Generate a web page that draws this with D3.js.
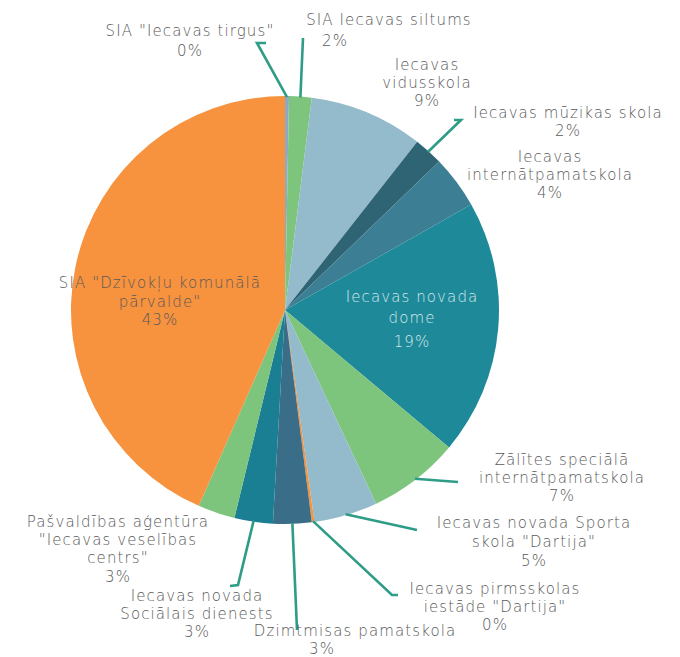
<!DOCTYPE html>
<html><head><meta charset="utf-8">
<script src="https://cdn.jsdelivr.net/npm/d3@7"></script>
<style>body{margin:0;background:#fff}svg{display:block}</style>
</head><body>
<script>
const categories = [
  'SIA "Iecavas tirgus"', 'SIA Iecavas siltums', 'Iecavas vidusskola', 'Iecavas mūzikas skola',
  'Iecavas internātpamatskola', 'Iecavas novada dome', 'Zālītes speciālā internātpamatskola',
  'Iecavas novada Sporta skola "Dartija"', 'Iecavas pirmsskolas iestāde "Dartija"',
  'Dzimtmisas pamatskola', 'Iecavas novada Sociālais dienests',
  'Pašvaldības aģentūra "Iecavas veselības centrs"', 'SIA "Dzīvokļu komunālā pārvalde"'
];
const values = [0.3, 1.7, 8.6, 2.2, 4.0, 19.3, 6.9, 4.8, 0.2, 2.9, 2.9, 2.8, 43.4];
const colors = ['#8fa9c4', '#7dc47c', '#93bbcb', '#2f6474', '#3c7e94', '#1e8a99', '#7dc47c',
  '#93bbcb', '#f7923f', '#3a6e88', '#1a7f92', '#7dc47c', '#f7923f'];
const labelLines = [
  ['SIA "Iecavas tirgus"'], ['SIA Iecavas siltums'], ['Iecavas', 'vidusskola'], ['Iecavas mūzikas skola'],
  ['Iecavas', 'internātpamatskola'], ['Iecavas novada', 'dome'], ['Zālītes speciālā', 'internātpamatskola'],
  ['Iecavas novada Sporta', 'skola "Dartija"'], ['Iecavas pirmsskolas', 'iestāde "Dartija"'],
  ['Dzimtmisas pamatskola'], ['Iecavas novada', 'Sociālais dienests'],
  ['Pašvaldības aģentūra', '"Iecavas veselības', 'centrs"'], ['SIA "Dzīvokļu komunālā', 'pārvalde"']
];

const W = 680, H = 657, cx = 285, cy = 310, R = 214;
const svg = d3.select('body').append('svg').attr('width', W).attr('height', H);
const g = svg.append('g').attr('transform', `translate(${cx},${cy})`);
const pie = d3.pie().sort(null).value(d => d);
const arcs = pie(values);
const arc = d3.arc().innerRadius(0).outerRadius(R);
g.selectAll('path.slice').data(arcs).join('path').attr('class', 'slice')
  .attr('d', arc).attr('fill', (d, i) => colors[i]);

const lab = [
  {x:190, y:36, pct:[190,56]}, {x:389, y:25, pct:[335,46]}, {x:427, y:70, pct:[427,106]},
  {x:568, y:118, pct:[568,136]}, {x:550, y:162, pct:[550,198]}, {x:412, y:302, pct:[412,347], inside:true},
  {x:562, y:465, pct:[562,501]}, {x:534, y:528, pct:[534,566]}, {x:495, y:594, pct:[495,630]},
  {x:355, y:636, pct:[322,654]}, {x:197, y:601, pct:[197,637]}, {x:118, y:527, pct:[118,582]},
  {x:160, y:288, pct:[160,325]}
];
const lineGap = [0,0,18,0,18,21,18,19,18,0,18,18,18.5];

const leaders = [
  {i:0, pts:[[257,43],[266,43]]}, {i:1, pts:[[303,38]]}, {i:3, pts:[[461,120],[454,120]]},
  {i:6, pts:[[458,482]]}, {i:7, pts:[[417,530]]}, {i:8, pts:[[392,595],[398,595]]},
  {i:9, pts:[[297,630]]}, {i:10, pts:[[238,585],[230,586]]}
];
leaders.forEach(l => {
  const a = arcs[l.i];
  const mid = (a.startAngle + a.endAngle) / 2;
  const p0 = [cx + Math.sin(mid) * (R - 1), cy - Math.cos(mid) * (R - 1)];
  const pts = [p0, ...l.pts];
  svg.append('path').attr('d', d3.line()(pts)).attr('fill', 'none')
    .attr('stroke', '#2e9c86').attr('stroke-width', 2.6);
});

const fmt = v => Math.round(v / d3.sum(values) * 100) + '%';
const tg = svg.append('g').attr('font-family', '"DejaVu Sans", sans-serif')
  .attr('font-size', 15).attr('font-weight', 200).attr('letter-spacing', 1.1)
  .attr('text-anchor', 'middle');
labelLines.forEach((lines, i) => {
  const L = lab[i];
  const col = L.inside ? '#d6e6ea' : '#595959';
  lines.forEach((t, k) => {
    tg.append('text').attr('x', L.x).attr('y', L.y + k * lineGap[i]).attr('fill', col).text(t);
  });
  tg.append('text').attr('x', L.pct[0]).attr('y', L.pct[1]).attr('fill', col).text(fmt(values[i]));
});
</script>
</body></html>
